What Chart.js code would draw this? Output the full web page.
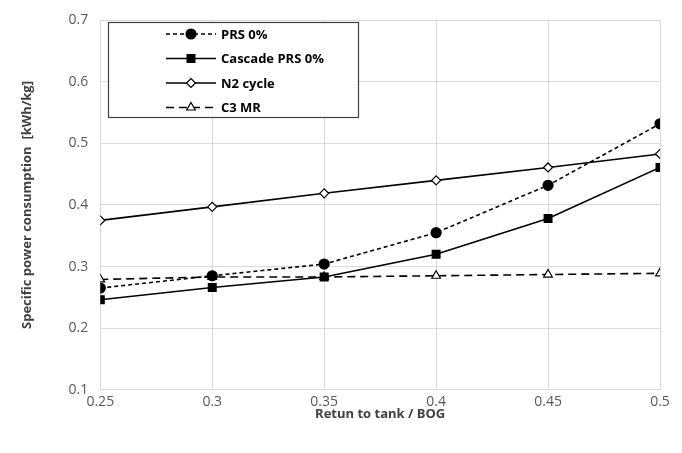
<!DOCTYPE html>
<html>
<head>
<meta charset="utf-8">
<script src="https://cdn.jsdelivr.net/npm/chart.js@4.4.1/dist/chart.umd.min.js"></script>
<style>
  html, body { margin: 0; padding: 0; background: #fff; }
  #wrap { width: 682px; height: 453px; }
</style>
</head>
<body>
<div id="wrap"><canvas id="bogChart" width="682" height="453"></canvas></div>
<script>
// Ratio return to tank / BOG
const ratios = [0.25, 0.3, 0.35, 0.4, 0.45, 0.5];

// Specific power consumption [kWh/kg]
const prs0 = [0.265, 0.285, 0.304, 0.355, 0.432, 0.532];
const cascadePrs0 = [0.246, 0.266, 0.283, 0.32, 0.378, 0.461];
const n2Cycle = [0.375, 0.397, 0.419, 0.44, 0.461, 0.483];
const c3mr = [0.279, 0.283, 0.283, 0.285, 0.287, 0.289];

const seriesNames = ["PRS 0%", "Cascade PRS 0%", "N2 cycle", "C3 MR"];

const toPoints = (arr) => arr.map((v, i) => ({ x: ratios[i], y: v }));

const font = "'Open Sans', 'Liberation Sans', sans-serif";

// Legend inside the plot, with a frame
const boxedLegend = {
  id: "boxedLegend",
  afterDraw(chart) {
    const { ctx } = chart;
    const left = 108, top = 22, width = 250, height = 95;
    ctx.save();
    ctx.fillStyle = "#fff";
    ctx.fillRect(left, top, width, height);
    ctx.strokeStyle = "#404040";
    ctx.lineWidth = 1.2;
    ctx.strokeRect(left + 0.5, top + 0.5, width, height);

    chart.data.datasets.forEach((ds, i) => {
      const y = top + 12 + i * 24.5;
      const x0 = 166, x1 = 216;
      ctx.strokeStyle = ds.borderColor;
      ctx.lineWidth = ds.borderWidth;
      ctx.setLineDash(ds.borderDash || []);
      ctx.beginPath();
      ctx.moveTo(x0, y);
      ctx.lineTo(x1, y);
      ctx.stroke();
      ctx.setLineDash([]);
      ctx.fillStyle = ds.pointBackgroundColor;
      ctx.strokeStyle = ds.pointBorderColor;
      ctx.lineWidth = ds.pointBorderWidth;
      Chart.helpers.drawPoint(ctx, {
        pointStyle: ds.pointStyle,
        radius: ds.pointRadius,
        rotation: 0,
        borderWidth: ds.pointBorderWidth
      }, (x0 + x1) / 2, y);
      ctx.fillStyle = "#000";
      ctx.font = "bold 13px " + font;
      ctx.textBaseline = "middle";
      ctx.fillText(ds.label, x1 + 5, y + 1);
    });
    ctx.restore();
  }
};

function styledDataset(label, data, opts) {
  return Object.assign({
    label: label,
    data: toPoints(data),
    borderColor: "#000",
    borderWidth: 1.6,
    pointBorderColor: "#000",
    pointBorderWidth: 1.2,
    tension: 0,
    fill: false
  }, opts);
}

const ctx = document.getElementById("bogChart").getContext("2d");

new Chart(ctx, {
  type: "line",
  data: {
    datasets: [
      styledDataset(seriesNames[0], prs0, {
        borderDash: [4, 3],
        pointStyle: "circle",
        pointRadius: 5,
        pointBackgroundColor: "#000"
      }),
      styledDataset(seriesNames[1], cascadePrs0, {
        pointStyle: "rect",
        pointRadius: 5.5,
        pointBackgroundColor: "#000"
      }),
      styledDataset(seriesNames[2], n2Cycle, {
        pointStyle: "rectRot",
        pointRadius: 4.5,
        pointBackgroundColor: "#fff"
      }),
      styledDataset(seriesNames[3], c3mr, {
        borderDash: [8, 5],
        pointStyle: "triangle",
        pointRadius: 5,
        pointBackgroundColor: "#fff"
      })
    ]
  },
  options: {
    responsive: false,
    animation: false,
    layout: { padding: { top: 7, right: 22, left: 15, bottom: 27 } },
    plugins: {
      legend: { display: false },
      tooltip: { enabled: false }
    },
    scales: {
      x: {
        type: "linear",
        min: 0.25,
        max: 0.5,
        ticks: {
          stepSize: 0.05,
          color: "#595959",
          font: { family: font, size: 14 },
          padding: 4,
          callback: (v) => String(Math.round(v * 100) / 100)
        },
        grid: { color: "#d9d9d9", drawTicks: false },
        border: { color: "#d9d9d9" },
        title: {
          display: true,
          text: "Retun to tank / BOG",
          color: "#404040",
          font: { family: font, size: 13, weight: "bold" },
          padding: { top: -8 }
        }
      },
      y: {
        min: 0.1,
        max: 0.7,
        ticks: {
          stepSize: 0.1,
          color: "#595959",
          font: { family: font, size: 14 },
          padding: 12,
          callback: (v) => v.toFixed(1)
        },
        grid: { color: "#d9d9d9", drawTicks: false },
        border: { color: "#d9d9d9" },
        title: {
          display: true,
          text: "Specific power consumption  [kWh/kg]",
          color: "#404040",
          font: { family: font, size: 13, weight: "bold" },
          padding: { bottom: 22 }
        }
      }
    }
  },
  plugins: [boxedLegend]
});
</script>
</body>
</html>
